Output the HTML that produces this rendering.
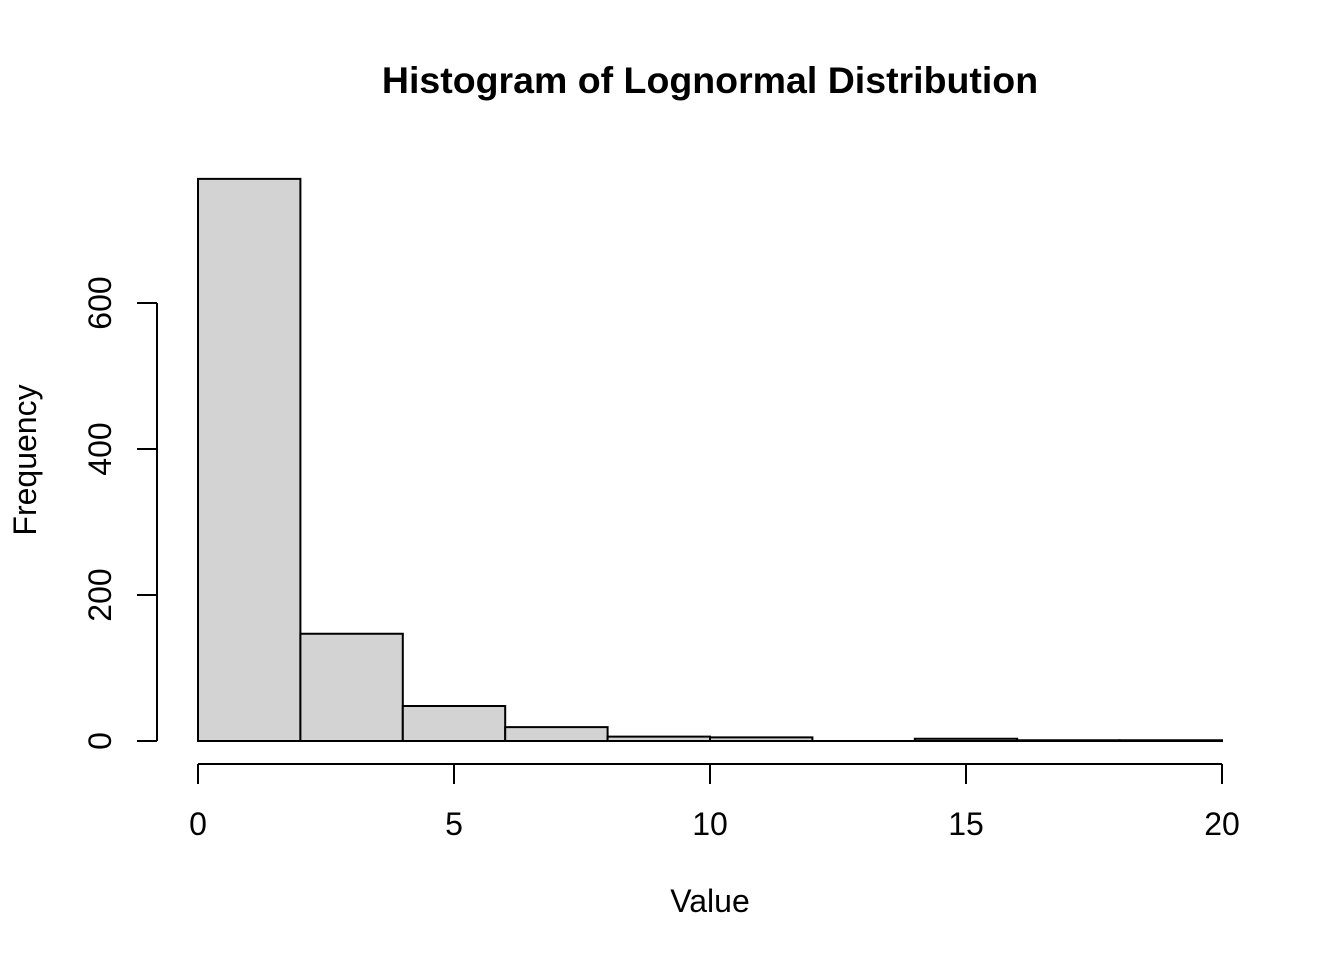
<!DOCTYPE html>
<html><head><meta charset="utf-8"><style>body{margin:0;background:#fff}svg{display:block}text{font-family:"Liberation Sans",Arial,sans-serif;fill:#000}</style></head>
<body>
<svg id="chart" width="1344" height="960">
<text x="710" y="93" text-anchor="middle" font-size="37.5" font-weight="bold">Histogram of Lognormal Distribution</text>
<text x="710" y="912" text-anchor="middle" font-size="32">Value</text>
<text transform="translate(36,460) rotate(-90)" text-anchor="middle" font-size="32">Frequency</text>
<g id="bars"></g>
<g id="xaxis"></g>
<g id="yaxis"></g>
</svg>
<script>
const binEdges=[0,2,4,6,8,10,12,14,16,18,20];
const counts=[770,147,48,19,6,5,0,3,1,1];
const xTicks=[0,5,10,15,20];
const yTicks=[0,200,400,600];
const NS="http://www.w3.org/2000/svg";
const x=v=>198+v*51.2;
const y=v=>741-v*0.73;
function mk(t,a,p){const e=document.createElementNS(NS,t);for(const k in a)e.setAttribute(k,a[k]);p.appendChild(e);return e;}
const bars=document.getElementById('bars');
counts.forEach((c,i)=>{
 const x0=x(binEdges[i]),x1=x(binEdges[i+1]),y0=y(0),y1=y(c);
 const r=mk('path',{d:`M${x0},${y0}L${x0},${y1}L${x1},${y1}L${x1},${y0}Z`,fill:'#d3d3d3',stroke:'#000','stroke-width':2},bars);
 
 
});
const xa=document.getElementById('xaxis');
mk('line',{x1:x(xTicks[0]),x2:x(xTicks[xTicks.length-1]),y1:764,y2:764,stroke:'#000','stroke-width':2},xa);
xTicks.forEach(t=>{
 mk('line',{x1:x(t),x2:x(t),y1:764,y2:784,stroke:'#000','stroke-width':2},xa);
 const l=mk('text',{x:x(t),y:835,'text-anchor':'middle','font-size':32},xa);l.textContent=t;
 
 
});
const ya=document.getElementById('yaxis');
mk('line',{x1:157,x2:157,y1:y(yTicks[0]),y2:y(yTicks[yTicks.length-1]),stroke:'#000','stroke-width':2},ya);
yTicks.forEach(t=>{
 mk('line',{x1:137,x2:157,y1:y(t),y2:y(t),stroke:'#000','stroke-width':2},ya);
 const l=mk('text',{transform:`translate(111,${y(t)}) rotate(-90)`,'text-anchor':'middle','font-size':32},ya);l.textContent=t;
 
 
});
</script>
</body></html>
